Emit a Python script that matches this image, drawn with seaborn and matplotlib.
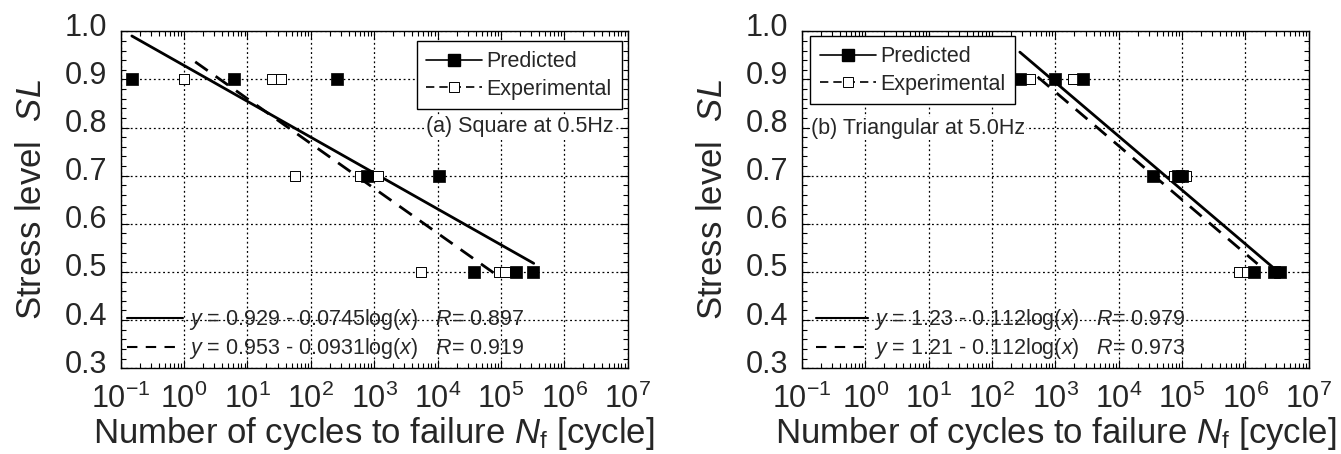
import numpy as np
import pandas as pd
import seaborn as sns
import matplotlib.pyplot as plt
import matplotlib.transforms as mtransforms
from matplotlib.lines import Line2D
from matplotlib.ticker import LogLocator, MultipleLocator, FormatStrFormatter, NullFormatter

# (a) square wave at 0.5 Hz
sq_pred_n = [0.15, 6.1, 257, 780, 10700, 38000, 175000, 325000]
sq_pred_sl = [0.9, 0.9, 0.9, 0.7, 0.7, 0.5, 0.5, 0.5]
sq_exp_n = [1.0, 24.5, 34, 56, 590, 1150, 5500, 94000, 115000]
sq_exp_sl = [0.9, 0.9, 0.9, 0.7, 0.7, 0.7, 0.5, 0.5, 0.5]

# (b) triangular wave at 5.0 Hz
tr_pred_n = [279, 970, 2700, 34500, 85000, 100000, 1380000, 2800000, 3500000]
tr_pred_sl = [0.9, 0.9, 0.9, 0.7, 0.7, 0.7, 0.5, 0.5, 0.5]
tr_exp_n = [400, 1900, 75000, 115000, 800000, 1070000]
tr_exp_sl = [0.9, 0.9, 0.7, 0.7, 0.5, 0.5]

# fitted lines: SL = a - b*log(N), drawn between the x limits
sq_fit_pred = (0.929, 0.0745, 0.15, 3.3e5, 0.897)
sq_fit_exp = (0.953, 0.0931, 1.5, 8.0e4, 0.919)
tr_fit_pred = (1.23, 0.112, 275, 3.3e6, 0.979)
tr_fit_exp = (1.21, 0.112, 525, 1.55e6, 0.973)

sns.set_theme(style="ticks")
plt.rcParams["font.family"] = ["Liberation Sans", "DejaVu Sans"]
plt.rcParams["mathtext.fontset"] = "custom"
plt.rcParams["mathtext.rm"] = "Liberation Sans"
plt.rcParams["mathtext.it"] = "Liberation Sans:italic"
plt.rcParams["axes.unicode_minus"] = False
plt.rcParams["xtick.direction"] = "in"
plt.rcParams["ytick.direction"] = "in"

fig = plt.figure(figsize=(13.41, 4.54), dpi=100)
ax1 = fig.add_axes([0.090, 0.189, 0.378, 0.742])
ax2 = fig.add_axes([0.598, 0.189, 0.378, 0.742])

grid_ls = (0, (1.5, 2.2))


def fit_line(fit):
    a, b, x0, x1, r = fit
    xs = np.array([x0, x1])
    return pd.DataFrame({"n": xs, "sl": a - b * np.log10(xs)})


def eq_label(fit):
    a, b, x0, x1, r = fit
    return f"$y$ = {a:g} - {b:g}log($x$)   $R$= {r:.3f}"


def draw_panel(ax, pred_n, pred_sl, exp_n, exp_sl, fit_p, fit_e):
    ax.set_xscale("log")
    sns.lineplot(data=fit_line(fit_p), x="n", y="sl", ax=ax, color="black", lw=2.0, sort=False)
    sns.lineplot(data=fit_line(fit_e), x="n", y="sl", ax=ax, color="black", lw=2.0,
                 dashes=False, linestyle=(0, (5.5, 3.5)), sort=False)
    sns.scatterplot(x=exp_n, y=exp_sl, ax=ax, marker="s", s=60, color="white",
                    edgecolor="black", linewidth=0.7, zorder=3)
    sns.scatterplot(x=pred_n, y=pred_sl, ax=ax, marker="s", s=64, color="black",
                    edgecolor="black", linewidth=0.5, zorder=4)

    ax.set_xlim(0.1, 1e7)
    ax.set_ylim(0.3, 1.0)
    ax.xaxis.set_major_locator(LogLocator(base=10, numticks=20))
    ax.xaxis.set_minor_locator(LogLocator(base=10, subs=np.arange(2, 10), numticks=100))
    ax.xaxis.set_minor_formatter(NullFormatter())
    ax.yaxis.set_major_locator(MultipleLocator(0.1))
    ax.yaxis.set_minor_locator(MultipleLocator(0.02))
    ax.yaxis.set_major_formatter(FormatStrFormatter("%.1f"))
    ax.tick_params(which="both", top=True, right=True, color="black", width=0.8)
    ax.tick_params(which="major", length=6, labelsize=22, pad=11)
    ax.tick_params(which="minor", length=3.5)
    ax.tick_params(axis="y", which="major", pad=10)
    ax.grid(True, which="major", color="black", linestyle=grid_ls, linewidth=0.9)
    for sp in ax.spines.values():
        sp.set_color("black")
        sp.set_linewidth(1.0)

    ax.set_xlabel(r"Number of cycles to failure $N_{\mathrm{f}}$ [cycle]", fontsize=25, labelpad=0)
    ax.set_ylabel(r"Stress level  $SL$", fontsize=25, labelpad=12)


draw_panel(ax1, sq_pred_n, sq_pred_sl, sq_exp_n, sq_exp_sl, sq_fit_pred, sq_fit_exp)
draw_panel(ax2, tr_pred_n, tr_pred_sl, tr_exp_n, tr_exp_sl, tr_fit_pred, tr_fit_exp)

marker_handles = [
    Line2D([], [], color="black", lw=1.2, marker="s", ms=8, mfc="black", mec="black"),
    Line2D([], [], color="black", lw=1.2, ls=(0, (5, 3)), marker="s", ms=7, mfc="white",
           mec="black", mew=0.7),
]
fit_handles = [
    Line2D([], [], color="black", lw=1.5),
    Line2D([], [], color="black", lw=1.5, ls=(0, (5, 4))),
]

leg_kw = dict(fontsize=15.5, frameon=True, fancybox=False, framealpha=1, edgecolor="black",
              handlelength=2.6, handletextpad=0.2, labelspacing=0.3, borderpad=0.45,
              borderaxespad=0)

leg1 = ax1.legend(marker_handles, ["Predicted", "Experimental"], loc="upper right",
                  bbox_to_anchor=(0.988, 0.97), **leg_kw)
leg1.get_frame().set_linewidth(1.0)
ax1.add_artist(leg1)
ax1.legend(fit_handles, [eq_label(sq_fit_pred), eq_label(sq_fit_exp)], loc="lower left",
           bbox_to_anchor=(0.012, 0.02), fontsize=15.5, frameon=False, handlelength=2.6,
           handletextpad=0.3, labelspacing=0.2, borderpad=0, borderaxespad=0)
ax1.text(0.972, 0.717, "(a) Square at 0.5Hz", transform=ax1.transAxes, ha="right",
         va="center", fontsize=15.5,
         bbox=dict(facecolor="white", edgecolor="none", pad=0.5))

leg2 = ax2.legend(marker_handles, ["Predicted", "Experimental"], loc="upper left",
                  bbox_to_anchor=(0.016, 0.985), **leg_kw)
leg2.get_frame().set_linewidth(1.0)
ax2.add_artist(leg2)
ax2.legend(fit_handles, [eq_label(tr_fit_pred), eq_label(tr_fit_exp)], loc="lower left",
           bbox_to_anchor=(0.028, 0.02), fontsize=15.5, frameon=False, handlelength=2.4,
           handletextpad=0.3, labelspacing=0.2, borderpad=0, borderaxespad=0)
ax2.text(0.018, 0.712, "(b) Triangular at 5.0Hz", transform=ax2.transAxes, ha="left",
         va="center", fontsize=15.5,
         bbox=dict(facecolor="white", edgecolor="none", pad=0.5))

# the y tick labels sit a little above their ticks in the original
fig.canvas.draw()
shift = mtransforms.ScaledTranslation(0, 7 / 100, fig.dpi_scale_trans)
for ax in (ax1, ax2):
    for lab in ax.get_yticklabels():
        lab.set_transform(lab.get_transform() + shift)

fig.savefig("out.png", dpi=100)
